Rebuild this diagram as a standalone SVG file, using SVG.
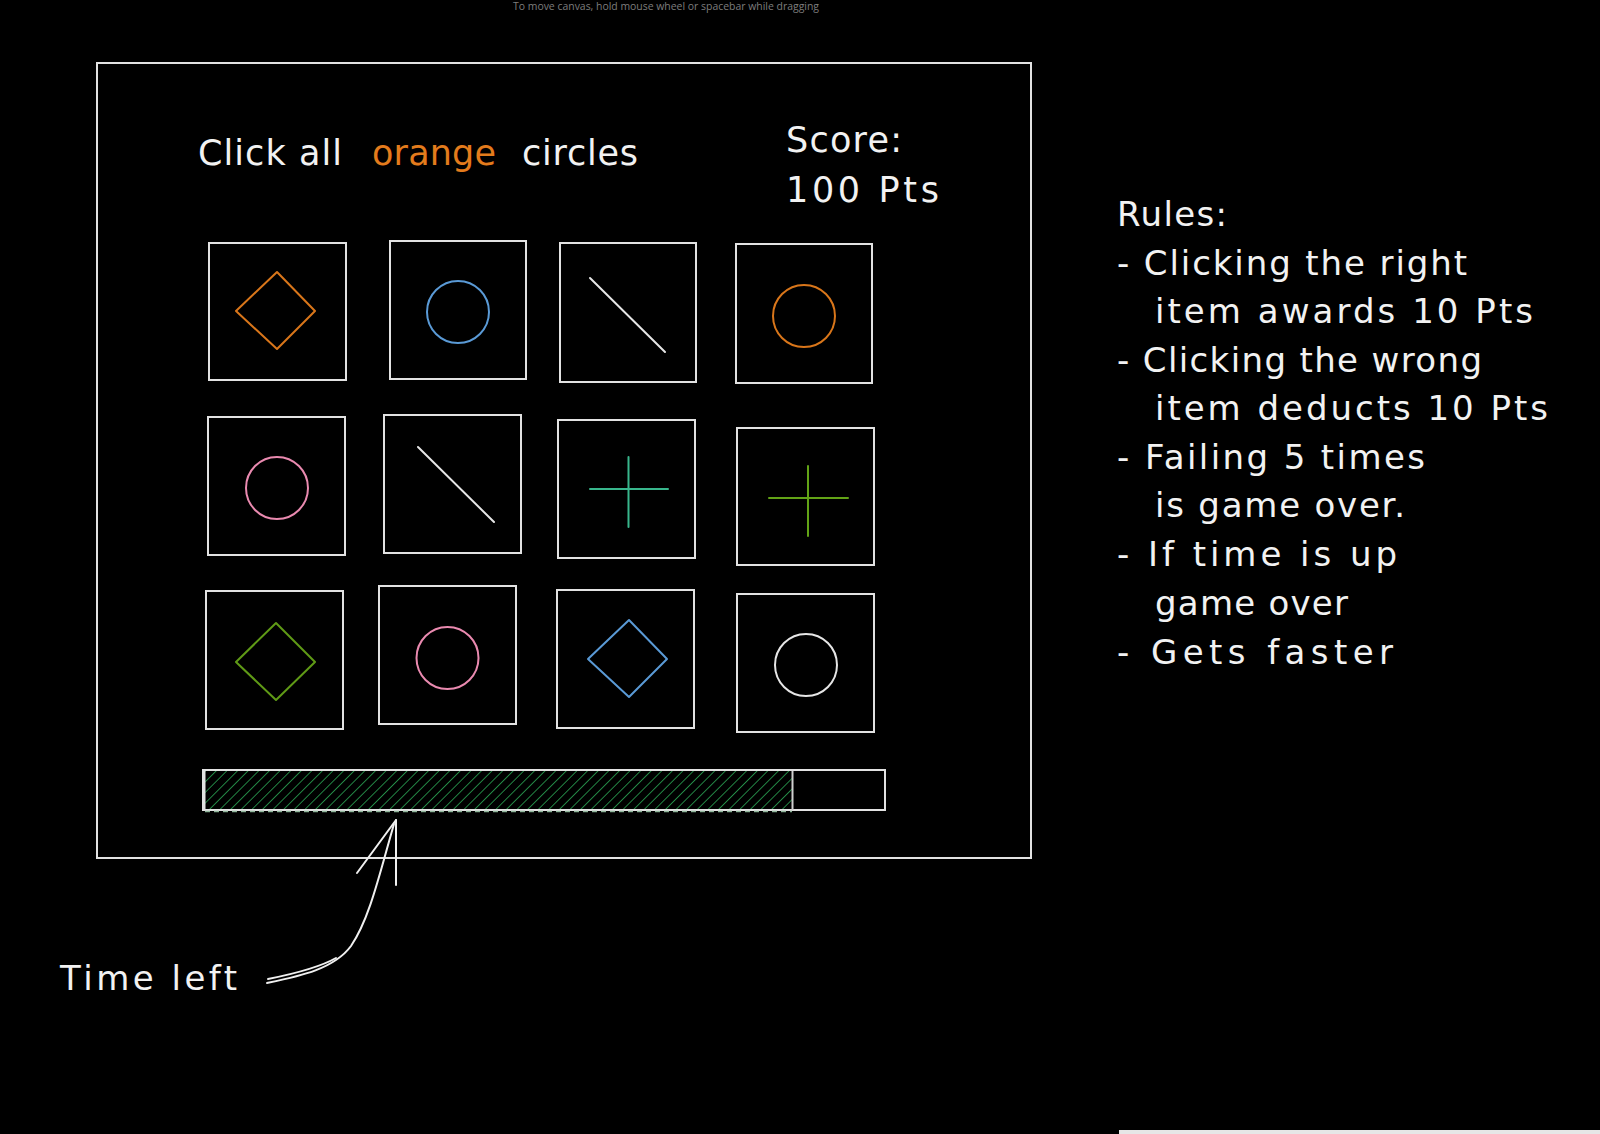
<svg xmlns="http://www.w3.org/2000/svg" width="1600" height="1134" viewBox="0 0 1600 1134">
  <style>
    .box { fill: none; stroke: #e2e2e2; stroke-width: 2; }
    .shape { fill: none; stroke-width: 2; stroke-linejoin: round; stroke-linecap: round; }
    .hand { font-family: "DejaVu Sans", "Noto Sans", sans-serif; fill: #f2f2f2; }
    .big { font-size: 35px; }
    .rule { font-size: 34px; }
    .conn { fill: none; stroke: #f0f0f0; stroke-width: 2; stroke-linecap: round; stroke-linejoin: round; }
  </style>
  <defs>
    <pattern id="hatch" width="7.5" height="7.5" patternUnits="userSpaceOnUse" patternTransform="rotate(45)">
      <line x1="0" y1="0" x2="0" y2="7.5" stroke="#25914a" stroke-width="1.8"/>
    </pattern>
  </defs>
  <rect x="0" y="0" width="1600" height="1134" fill="#000"/>

  <text x="513" y="10" font-family="Open Sans, Liberation Sans, sans-serif" font-size="11" fill="#7d7d7d" textLength="306" lengthAdjust="spacingAndGlyphs">To move canvas, hold mouse wheel or spacebar while dragging</text>

  <g id="frame">
    <rect class="box" x="97" y="63" width="934" height="795"/>
  </g>

  <g id="title">
    <text class="hand big" x="198" y="165" textLength="144">Click all</text>
    <text class="hand big" x="372" y="165" textLength="124" style="fill:#e37b1c">orange</text>
    <text class="hand big" x="522" y="165" textLength="116">circles</text>
  </g>

  <g id="score">
    <text class="hand big" x="786" y="152" textLength="116">Score:</text>
    <text class="hand big" x="786" y="202" textLength="153">100 Pts</text>
  </g>

  <g id="cell1">
    <rect class="box" x="209" y="243" width="137" height="137"/>
    <polygon class="shape" stroke="#d9761a" points="277,272 315,311 277,349 236,311"/>
  </g>
  <g id="cell2">
    <rect class="box" x="390" y="241" width="136" height="138"/>
    <ellipse class="shape" stroke="#5a9ad6" cx="458" cy="312" rx="31" ry="31"/>
  </g>
  <g id="cell3">
    <rect class="box" x="560" y="243" width="136" height="139"/>
    <line class="shape" stroke="#e6e6e6" x1="590" y1="278" x2="665" y2="352"/>
  </g>
  <g id="cell4">
    <rect class="box" x="736" y="244" width="136" height="139"/>
    <ellipse class="shape" stroke="#d9761a" cx="804" cy="316" rx="31" ry="31"/>
  </g>

  <g id="cell5">
    <rect class="box" x="208" y="417" width="137" height="138"/>
    <ellipse class="shape" stroke="#ea8ab0" cx="277" cy="488" rx="31" ry="31"/>
  </g>
  <g id="cell6">
    <rect class="box" x="384" y="415" width="137" height="138"/>
    <line class="shape" stroke="#e6e6e6" x1="418" y1="447" x2="494" y2="522"/>
  </g>
  <g id="cell7">
    <rect class="box" x="558" y="420" width="137" height="138"/>
    <line class="shape" stroke="#38b68c" x1="628.5" y1="457" x2="628.5" y2="527"/>
    <line class="shape" stroke="#38b68c" x1="590" y1="489" x2="668" y2="489"/>
  </g>
  <g id="cell8">
    <rect class="box" x="737" y="428" width="137" height="137"/>
    <line class="shape" stroke="#62a316" x1="808" y1="466" x2="808" y2="536"/>
    <line class="shape" stroke="#62a316" x1="769" y1="498" x2="848" y2="498"/>
  </g>

  <g id="cell9">
    <rect class="box" x="206" y="591" width="137" height="138"/>
    <polygon class="shape" stroke="#5f9a16" points="276,623 315,662 276,700 236,662"/>
  </g>
  <g id="cell10">
    <rect class="box" x="379" y="586" width="137" height="138"/>
    <ellipse class="shape" stroke="#ea8ab0" cx="447.5" cy="658" rx="31" ry="31"/>
  </g>
  <g id="cell11">
    <rect class="box" x="557" y="590" width="137" height="138"/>
    <polygon class="shape" stroke="#5a9ad6" points="629,620 667,659 629,697 588,659"/>
  </g>
  <g id="cell12">
    <rect class="box" x="737" y="594" width="137" height="138"/>
    <ellipse class="shape" stroke="#e6e6e6" cx="806" cy="665" rx="31" ry="31"/>
  </g>

  <g id="timebar">
    <rect x="204.5" y="771" width="588" height="39" fill="url(#hatch)"/>
    <rect class="box" x="203" y="770" width="682" height="40"/>
    <line x1="204.5" y1="771" x2="204.5" y2="810" stroke="#e2e2e2" stroke-width="2"/>
    <line x1="792.5" y1="771" x2="792.5" y2="810" stroke="#cfcfcf" stroke-width="2"/>
    <line x1="205" y1="811.5" x2="792" y2="811.5" stroke="#8fb59a" stroke-width="1.5" stroke-dasharray="5 4"/>
  </g>

  <g id="rules">
    <text class="hand rule" x="1117" y="226" textLength="110">Rules:</text>
    <text class="hand rule" x="1117" y="275" textLength="350">- Clicking the right</text>
    <text class="hand rule" x="1155" y="323" textLength="378">item awards 10 Pts</text>
    <text class="hand rule" x="1117" y="372" textLength="365">- Clicking the wrong</text>
    <text class="hand rule" x="1155" y="420" textLength="393">item deducts 10 Pts</text>
    <text class="hand rule" x="1117" y="469" textLength="308">- Failing 5 times</text>
    <text class="hand rule" x="1155" y="517" textLength="250">is game over.</text>
    <text class="hand rule" x="1117" y="566" textLength="280">- If time is up</text>
    <text class="hand rule" x="1155" y="615" textLength="193">game over</text>
    <text class="hand rule" x="1117" y="664" textLength="276">- Gets faster</text>
  </g>

  <g id="time-left">
    <text class="hand" font-size="34" x="60" y="990" textLength="177">Time left</text>
  </g>

  <g id="connectors">
    <path class="conn" d="M267 983 C300 976 334 969 351 946 C370 918 380 872 394 824"/>
    <path class="conn" d="M268 979 C298 973 322 966 336 958"/>
    <path class="conn" d="M396 820 L357 873"/>
    <path class="conn" d="M396 820 L396 885"/>
  </g>

  <rect x="1119" y="1130" width="481" height="4" fill="#e6e6e6"/>
</svg>
